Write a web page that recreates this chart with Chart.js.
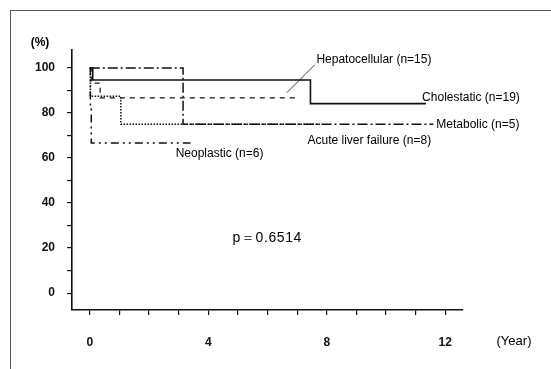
<!DOCTYPE html>
<html>
<head>
<meta charset="utf-8">
<script src="https://cdn.jsdelivr.net/npm/chart.js@4.4.1/dist/chart.umd.min.js"></script>
<style>
  html,body{margin:0;padding:0;background:#fff;}
  #wrap{position:relative;width:551px;height:369px;overflow:hidden;}
  #frame{position:absolute;left:10px;top:10px;width:560px;height:400px;border-top:1px solid #555;border-left:1px solid #555;}
  canvas{position:absolute;left:0;top:0;}
</style>
</head>
<body>
<div id="wrap"><div id="frame"></div><canvas id="c" width="551" height="369"></canvas></div>
<script>
// ---- data (years, survival %) ----
const cholestaticT = [0, 0.1, 7.45, 11.35];
const cholestaticS = [100, 94.7, 84.2, 84.2];
const hepatocellularT = [0, 0.05, 0.35, 6.95];
const hepatocellularS = [100, 93.3, 86.7, 86.7];
const metabolicT = [0, 3.15, 11.6];
const metabolicS = [100, 75, 75];
const acuteT = [0, 0.02, 1.05, 7.8];
const acuteS = [100, 87.5, 75, 75];
const neoplasticT = [0, 0.02, 0.05, 3.4];
const neoplasticS = [100, 83.3, 66.7, 66.7];

// leader line for Hepatocellular label (data coords)
const leaderT = [6.65, 7.6];
const leaderS = [89, 101.5];

// annotation texts and their anchors (data coords)
const labelTexts = ["Hepatocellular (n=15)", "Cholestatic (n=19)", "Metabolic (n=5)", "Acute liver failure (n=8)", "Neoplastic (n=6)", "p\uFF1D0.6514"];
const labelT = [7.65, 11.22, 11.7, 7.35, 2.9, 4.82];
const labelS = [103.6, 87, 75, 67.9, 62, 24.6];

const xTickLabels = [0, 4, 8, 12];
const yTickLabels = [0, 20, 40, 60, 80, 100];

function pts(t, s){ return t.map((v,i)=>({x:v, y:s[i]})); }

const textPlugin = {
  id:'texts',
  afterDatasetsDraw(chart){
    const {ctx, scales:{x, y}} = chart;
    ctx.save();
    ctx.fillStyle = '#000';
    ctx.textAlign = 'left';
    ctx.textBaseline = 'middle';
    labelTexts.forEach((t,i)=>{
      if (i === 5) {
        ctx.font = '14px "Liberation Sans", Arial, sans-serif';
        ctx.letterSpacing = '0.6px';
      } else {
        ctx.font = '12px "Liberation Sans", Arial, sans-serif';
        ctx.letterSpacing = '0px';
      }
      ctx.fillText(t, x.getPixelForValue(labelT[i]), y.getPixelForValue(labelS[i]));
    });
    ctx.letterSpacing = '0px';
    // axis unit labels
    ctx.font = 'bold 12px "Liberation Sans", Arial, sans-serif';
    ctx.textAlign = 'center';
    ctx.fillText('(%)', 40, 43);
    ctx.font = '13px "Liberation Sans", Arial, sans-serif';
    ctx.fillText('(Year)', 514, 341);
    ctx.restore();
  }
};

const common = {pointRadius:0, fill:false, borderColor:'#111', tension:0};

new Chart(document.getElementById('c'), {
  type:'line',
  data:{
    datasets:[
      Object.assign({label:'Cholestatic', data:pts(cholestaticT, cholestaticS), stepped:true, borderWidth:1.6}, common),
      Object.assign({label:'Hepatocellular', data:pts(hepatocellularT, hepatocellularS), stepped:true, borderWidth:1.2, borderDash:[5,5]}, common),
      Object.assign({label:'Metabolic', data:pts(metabolicT, metabolicS), stepped:true, borderWidth:1.5, borderDash:[10,3,2,3]}, common),
      Object.assign({label:'Acute liver failure', data:pts(acuteT, acuteS), stepped:true, borderWidth:1.5, borderDash:[1.5,1.5]}, common),
      Object.assign({label:'Neoplastic', data:pts(neoplasticT, neoplasticS), stepped:true, borderWidth:1.5, borderDash:[8,4,2,4,2,4]}, common),
      Object.assign({label:'leader', data:pts(leaderT, leaderS), stepped:false, borderWidth:0.8}, common)
    ]
  },
  options:{
    responsive:false,
    animation:false,
    layout:{padding:{left:0, top:50, right:88, bottom:0}},
    plugins:{legend:{display:false}, tooltip:{enabled:false}},
    scales:{
      x:{
        type:'linear', min:-0.6, max:12.6,
        border:{display:true, color:'#111', width:1.6},
        grid:{drawOnChartArea:false, drawTicks:true, tickLength:5, color:'#111', lineWidth:1.2},
        ticks:{stepSize:1, includeBounds:false, padding:20, color:'#111', maxRotation:0, autoSkip:false,
          font:{family:'"Liberation Sans", Arial, sans-serif', size:12, weight:'bold'},
          callback:(v)=> xTickLabels.includes(v) ? String(v) : ''},
        afterFit:(s)=>{ s.height = 59; }
      },
      y:{
        type:'linear', min:-7.5, max:108,
        border:{display:true, color:'#111', width:1.6},
        grid:{drawOnChartArea:false, drawTicks:true, tickLength:5, color:'#111', lineWidth:1.2},
        ticks:{stepSize:10, includeBounds:false, padding:12, color:'#111', autoSkip:false,
          font:{family:'"Liberation Sans", Arial, sans-serif', size:12, weight:'bold'},
          callback:(v)=> yTickLabels.includes(v) ? String(v) : ''},
        afterFit:(s)=>{ s.width = 72; }
      }
    }
  },
  plugins:[textPlugin]
});
</script>
</body>
</html>
